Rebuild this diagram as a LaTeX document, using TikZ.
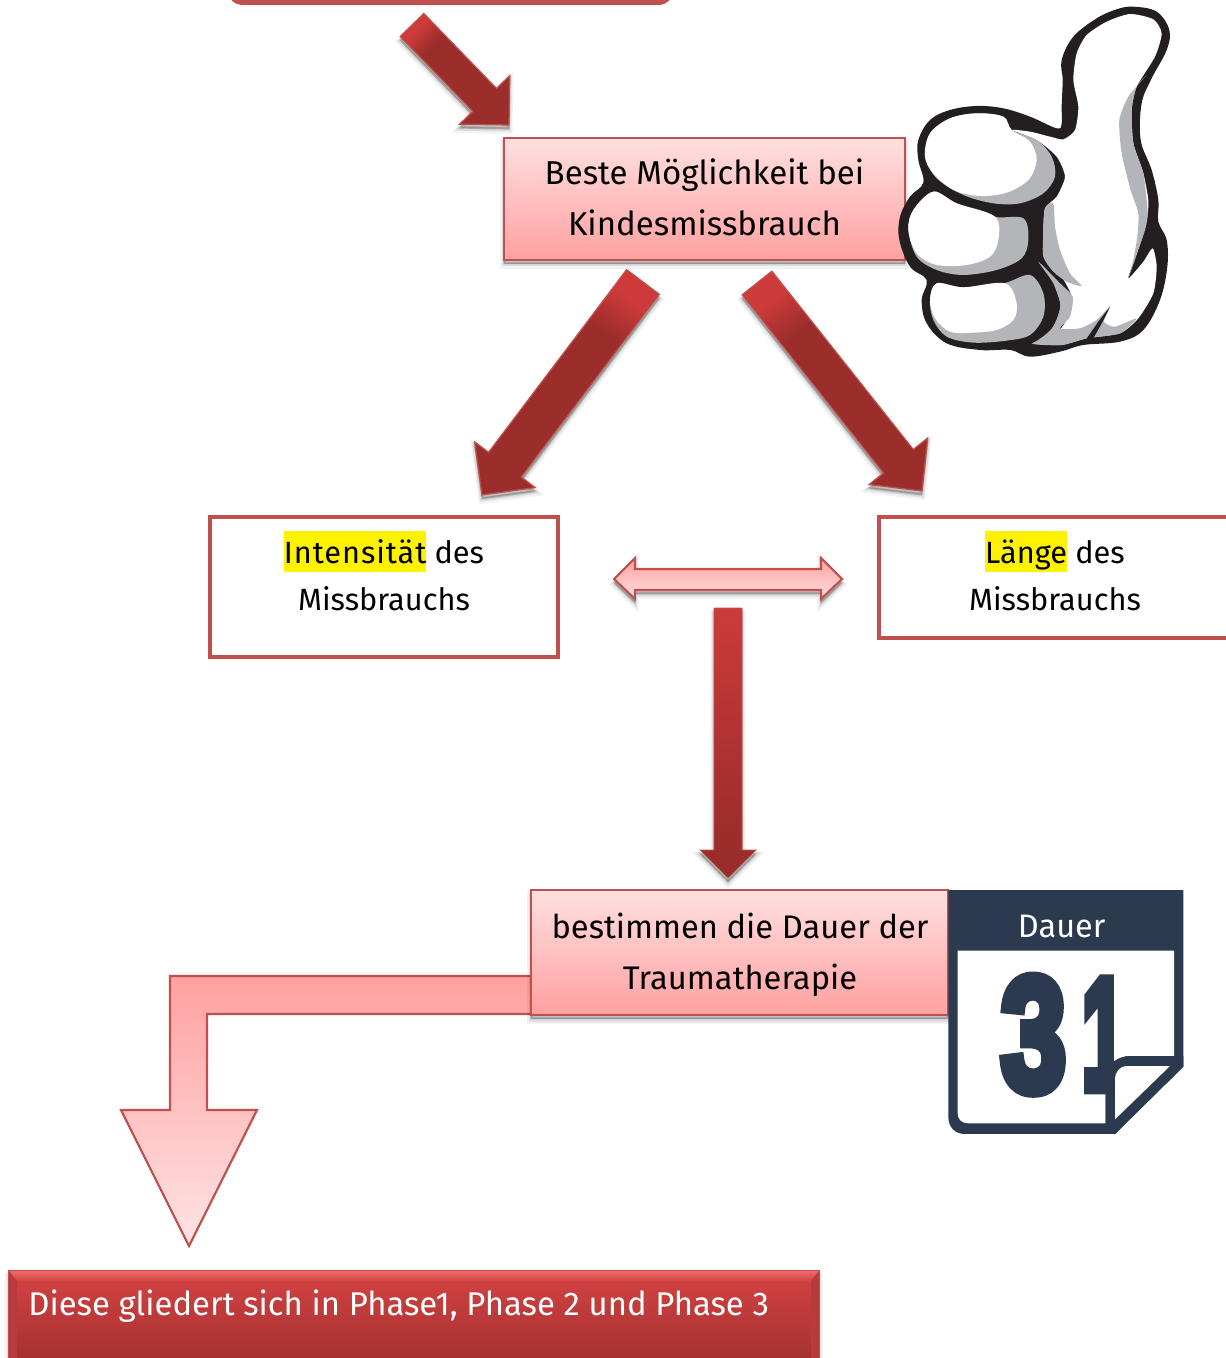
\documentclass[tikz,border=0pt]{standalone}
\usepackage{fontspec}
\usepackage{graphicx}
\setmainfont{Fira Sans}
\usetikzlibrary{calc}
\newfontfamily\digitfont[BoldFeatures={FakeBold=7}]{Liberation Sans}
\definecolor{edge}{HTML}{C0504D}
\definecolor{dark}{HTML}{9B2D2B}
\definecolor{calblue}{HTML}{2B3A4E}
\definecolor{thumbgray}{HTML}{B3B5B8}
\definecolor{inkblack}{HTML}{231F20}
\definecolor{palehi}{HTML}{FFE0E0}
\definecolor{palelo}{HTML}{FFA0A0}
\definecolor{palest}{HTML}{FFE4E4}
\definecolor{brightred}{HTML}{CC3B3A}
\definecolor{bandtop}{HTML}{D44343}
\definecolor{bandlow}{HTML}{A53030}
\definecolor{bevelhi}{HTML}{EE6A6A}
\definecolor{bevelside}{HTML}{B83A3A}
\pgfdeclareverticalshading{darkarrow}{100bp}{color(0bp)=(dark); color(65bp)=(dark); color(75bp)=(brightred); color(100bp)=(brightred)}
\pgfdeclareverticalshading{longarrow}{100bp}{color(0bp)=(dark!92!black); color(32bp)=(dark); color(75bp)=(brightred); color(100bp)=(brightred)}
\newcommand{\pxu}{0.02cm}
\newcommand{\blockarrow}[6][]{%
  \coordinate (hb) at ($(#3)!#6*\pxu!(#2)$);
  \path[#1] ($(#2)!#4*\pxu!90:(#3)$) -- ($(hb)!#4*\pxu!-90:(#2)$) -- ($(hb)!#5*\pxu!-90:(#2)$) -- (#3) -- ($(hb)!#5*\pxu!90:(#2)$) -- ($(hb)!#4*\pxu!90:(#2)$) -- ($(#2)!#4*\pxu!-90:(#3)$) -- cycle;
}
\newcommand{\hl}[1]{{\setlength{\fboxsep}{0pt}\colorbox{yellow}{\rule[-4.6pt]{0pt}{23.3pt}#1}}}
\tikzset{
  softshadow/.style={
    preaction={draw=black,draw opacity=.05,fill=black,fill opacity=.05,line width=4pt,transform canvas={yshift=-3pt}},
    preaction={draw=black,draw opacity=.08,fill=black,fill opacity=.08,line width=2.4pt,transform canvas={yshift=-2.5pt}},
    preaction={draw=black,draw opacity=.12,fill=black,fill opacity=.12,line width=1pt,transform canvas={yshift=-2pt}}},
  arrowedge/.style={draw=edge,line width=.7pt,line join=miter},
  whitebox/.style={draw=edge,line width=2.2pt,fill=white,inner sep=0pt},
  bodytext/.style={align=center,text=black,font=\fontsize{18.8}{29}\selectfont},
}
\begin{document}
\begin{tikzpicture}[x=\pxu,y=-\pxu]
\useasboundingbox (0,0) rectangle (1226,1358);
\clip (0,0) rectangle (1226,1358);
\fill[white] (0,0) rectangle (1226,1358);

% top box
\node[draw=none,fill=edge,rounded corners=9pt,minimum width=447*\pxu,minimum height=60*\pxu,inner sep=0pt] (topbox) at (450.5,-25) {};

% boxes
\path[draw=edge,line width=1.2pt,top color=palehi,bottom color=palelo,softshadow] (504,138) rectangle (905,260);
\node[bodytext,inner sep=0pt,minimum width=401*\pxu,minimum height=122*\pxu] (beste) at (704.5,197) {Beste Möglichkeit bei\\Kindesmissbrauch};
\node[whitebox,minimum width=348*\pxu,minimum height=140*\pxu] (intens) at (384,587) {};
\node[bodytext,font=\fontsize{17.5}{26.7}\selectfont] (intenstext) at (384,571) {\hl{\addfontfeature{LetterSpace=3}Intensität} des\\Missbrauchs};
\node[whitebox,minimum width=400*\pxu,minimum height=121*\pxu] (laenge) at (1079,577.5) {};
\node[bodytext,font=\fontsize{17.5}{26.7}\selectfont] (laengetext) at (1055,571) {\hl{Länge} des\\Missbrauchs};

% thumb
\begin{scope}[shift={(880,0)},x=0.02cm/3,y=-0.02cm/3]
\fill[inkblack,line join=round] plot[smooth cycle,tension=.6] coordinates {(760,20)(830,35)(868,90)(860,150)(815,235)(785,310)(782,420)(815,510)(835,600)(835,665)(860,720)(862,800)(840,900)(790,990)(720,1025)(610,1035)(540,1055)(450,1070)(390,1050)(300,1050)(200,1030)(140,970)(125,900)(140,840)(90,800)(58,720)(60,650)(90,590)(130,548)(115,480)(115,420)(150,360)(210,330)(290,318)(370,325)(450,350)(530,385)(545,370)(545,320)(548,240)(545,180)(580,110)(650,55)(710,28)};
\fill[white] plot[smooth cycle,tension=.4] coordinates {(590,160)(620,105)(680,65)(750,42)(820,58)(845,100)(825,170)(770,260)(755,330)(760,430)(790,520)(805,600)(802,650)(790,700)(770,760)(745,835)(790,785)(818,745)(830,800)(820,880)(775,955)(720,1000)(620,1015)(545,1035)(470,1030)(530,1000)(565,950)(575,890)(545,830)(495,770)(490,700)(495,625)(530,590)(555,530)(530,470)(470,420)(395,390)(450,395)(510,410)(550,418)(585,390)(595,320)(580,240)};
\fill[thumbgray] plot[smooth cycle,tension=.4] coordinates {(800,225)(745,290)(718,360)(725,460)(752,570)(775,640)(772,710)(760,780)(745,835)(775,750)(795,690)(803,640)(790,520)(760,430)(755,330)(770,260)};
\fill[thumbgray] plot[smooth cycle,tension=.45] coordinates {(495,625)(520,610)(525,680)(540,750)(570,820)(605,858)(560,845)(520,815)(490,770)(490,700)};
\fill[thumbgray] plot[smooth cycle,tension=.4] coordinates {(475,785)(540,850)(578,890)(570,950)(540,985)(600,985)(650,960)(690,920)(672,965)(705,980)(770,955)(720,1000)(620,1015)(545,1035)(455,1030)(515,985)(540,920)(520,850)};
\fill[inkblack] plot[smooth cycle,tension=.5] coordinates {(470,800)(515,850)(540,915)(515,985)(455,1030)(420,1020)(470,950)(480,880)};
\fill[inkblack] (690,920) -- (655,965) -- (610,1030) -- (640,1015) -- (668,965) -- cycle;
% index finger
\fill[thumbgray] plot[smooth cycle,tension=.55] coordinates {(135,470)(150,400)(210,355)(290,340)(370,350)(395,390)(470,420)(515,470)(525,530)(490,580)(420,610)(340,610)(250,585)(170,535)};
\fill[white] plot[smooth cycle,tension=.55] coordinates {(135,470)(150,400)(210,355)(290,340)(370,350)(395,390)(450,425)(470,480)(445,540)(380,578)(300,588)(220,570)(160,520)};
% middle finger
\fill[thumbgray] plot[smooth cycle,tension=.55] coordinates {(85,690)(100,630)(160,575)(230,610)(340,650)(430,655)(445,720)(425,775)(350,810)(250,825)(170,810)(110,770)};
\fill[white] plot[smooth cycle,tension=.55] coordinates {(85,690)(100,630)(160,575)(230,610)(345,650)(355,720)(330,770)(260,795)(170,795)(110,760)};
% little finger
\fill[thumbgray] plot[smooth cycle,tension=.55] coordinates {(150,900)(170,850)(250,862)(370,850)(450,825)(490,880)(490,950)(450,1005)(380,1022)(280,1028)(200,1010)(160,960)};
\fill[white] plot[smooth cycle,tension=.55] coordinates {(150,900)(170,850)(250,862)(375,850)(410,910)(400,960)(350,990)(280,998)(210,995)(165,955)};
\end{scope}

% arrows
\coordinate (a1s) at (412,25);\coordinate (a1e) at (509,125);
\blockarrow[arrowedge,softshadow,shading=darkarrow,shading angle=45]{a1s}{a1e}{16.5}{35}{35}
\coordinate (a2s) at (643,282);\coordinate (a2e) at (482,495);
\blockarrow[arrowedge,softshadow,shading=darkarrow,shading angle=-37]{a2s}{a2e}{20.5}{38}{38}
\coordinate (a3s) at (757,283);\coordinate (a3e) at (922,491);
\blockarrow[arrowedge,softshadow,shading=darkarrow,shading angle=38]{a3s}{a3e}{19}{37.5}{38}
\coordinate (a4s) at (728,608);\coordinate (a4e) at (728,878);
\blockarrow[draw=edge,line width=.4pt,softshadow,shading=longarrow]{a4s}{a4e}{14}{28}{28}

% double arrow
\path[draw=edge,line width=1.2pt,top color=palelo,bottom color=palehi,softshadow,line join=miter] (614,579) -- (635,558) -- (635,569) -- (821,569) -- (821,558) -- (842,579) -- (821,599) -- (821,590) -- (635,590) -- (635,599) -- cycle;

% bent arrow
\path[draw=edge,line width=1.2pt,top color=palelo,bottom color=palest,line join=miter] (531,976) -- (170,976) -- (170,1110) -- (121,1110) -- (189,1246) -- (257,1110) -- (207,1110) -- (207,1014) -- (531,1014);

% bestimmen box
\path[draw=edge,line width=1.2pt,top color=palehi,bottom color=palelo,softshadow] (531,890) rectangle (948,1015);
\node[bodytext,inner sep=0pt,minimum width=417*\pxu,minimum height=125*\pxu,font=\fontsize{18.6}{29}\selectfont] (best) at (740,955) {bestimmen die Dauer der\\Traumatherapie};

% bottom box
\path[draw=edge,line width=1pt,top color=bandtop,bottom color=bandlow,softshadow] (9,1271) rectangle (819,1362);
\path[top color=bevelhi,bottom color=bandtop] (9,1271) -- (819,1271) -- (811,1281) -- (17,1281) -- cycle;
\fill[bevelside] (9,1271) -- (17,1281) -- (17,1358) -- (9,1358) -- cycle;
\fill[bevelside] (819,1271) -- (811,1281) -- (811,1358) -- (819,1358) -- cycle;
\node[anchor=west,text=white,font=\fontsize{18.7}{24}\selectfont,inner sep=0pt] (phasen) at (28,1306) {Diese gliedert sich in Phase1, Phase 2 und Phase 3};

% calendar
\begin{scope}[shift={(930,880)},x=0.02cm/3,y=-0.02cm/3]
\fill[calblue] (55,30) -- (760,30) -- (760,560) -- (555,762) -- (105,762) .. controls (75,762) and (55,742) .. (55,710) -- cycle;
\fill[white] (83,212) -- (732,212) -- (732,528) -- (590,528) .. controls (550,535) and (527,560) .. (527,600) -- (527,730) -- (115,730) .. controls (95,730) and (83,718) .. (83,700) -- cycle;
\node[inner sep=0pt,text=calblue] (three) at (310.5,464) {\resizebox{1.3cm}{2.26cm}{\digitfont\bfseries 3}};
\node[inner sep=0pt,text=calblue] (one) at (521.5,463) {\resizebox{0.88cm}{2.18cm}{\digitfont\bfseries 1}};
\fill[calblue] (598,528) -- (760,528) -- (760,560) -- (555,762) -- (527,762) -- (527,600) .. controls (527,560) and (550,535) .. (598,528) -- cycle;
\fill[white] (720,558) -- (590,558) .. controls (568,560) and (555,575) .. (555,600) -- (555,718) -- cycle;
\node[text=white,font=\fontsize{18.5}{22}\selectfont,inner sep=0pt] (dauer) at (395,140) {Dauer};
\end{scope}
\end{tikzpicture}
\end{document}
